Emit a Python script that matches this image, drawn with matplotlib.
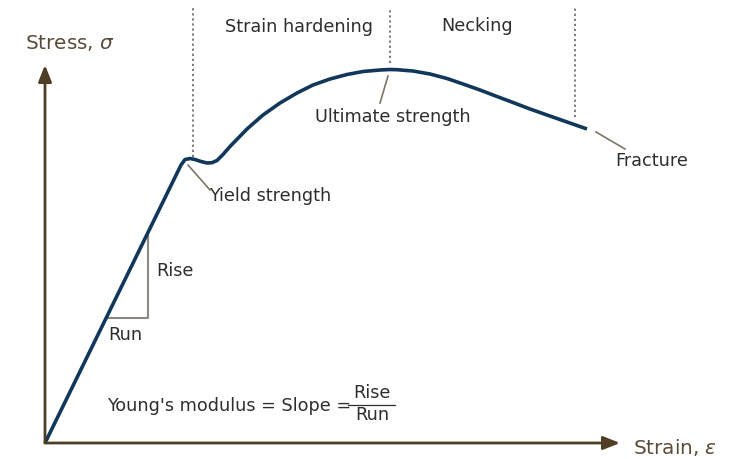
import matplotlib
matplotlib.use("Agg")
import matplotlib.pyplot as plt

# curve (arbitrary units, 1 unit = 100 px)
strain = [0.0, 1.36, 1.40, 1.45, 1.50, 1.56, 1.62, 1.67, 1.72, 1.78, 1.85, 2.02,
          2.18, 2.35, 2.52, 2.68, 2.85, 3.02, 3.18, 3.35, 3.45, 3.52, 3.68, 3.85,
          4.02, 4.18, 4.35, 4.52, 4.68, 4.85, 5.02, 5.22, 5.42]
stress = [0.0, 2.78, 2.835, 2.845, 2.835, 2.815, 2.80, 2.803, 2.825, 2.885, 2.965, 3.14,
          3.28, 3.40, 3.50, 3.58, 3.64, 3.685, 3.715, 3.73, 3.735, 3.733, 3.72, 3.69,
          3.645, 3.59, 3.53, 3.465, 3.405, 3.34, 3.28, 3.21, 3.14]

# region boundaries (strain) and where they stop at the bottom
bounds = [1.48, 3.45, 5.30]
bound_low = [2.86, 3.80, 3.26]
top = 4.35

# rise / run triangle (strain range)
run_x = [0.61, 1.03]

curve_c = "#11385a"
axis_c = "#4f3d26"
label_c = "#5a4a38"
text_c = "#2e2e2e"
lead_c = "#7d7468"

plt.rcParams["font.family"] = ["DejaVu Sans"]
plt.rcParams["mathtext.fontset"] = "dejavusans"
fig = plt.figure(figsize=(7.31, 4.59), dpi=100)
ax = fig.add_axes([0, 0, 1, 1])
ax.set_xlim(-0.45, 6.86)
ax.set_ylim(-0.16, 4.43)
ax.axis("off")

# axes arrows
arr = dict(arrowstyle="-|>,head_length=1.0,head_width=0.4", color=axis_c, lw=2, shrinkA=0, shrinkB=0)
ax.annotate("", xy=(5.75, 0), xytext=(0, 0), arrowprops=arr)
ax.annotate("", xy=(0, 3.78), xytext=(0, 0), arrowprops=arr)

# dotted boundaries
for b, lo in zip(bounds, bound_low):
    ax.plot([b, b], [lo, top], ls=(0, (1.2, 1.6)), color="#707070", lw=1.3)

# rise/run
slope = stress[1] / strain[1]
ax.plot([run_x[0], run_x[1], run_x[1]], [run_x[0] * slope, run_x[0] * slope, run_x[1] * slope],
        color="#8c8782", lw=1.5)

ax.plot(strain, stress, color=curve_c, lw=2.6, solid_joinstyle="round", solid_capstyle="butt")

# leader lines
ax.plot([1.43, 1.65], [2.78, 2.53], color=lead_c, lw=1.2)
ax.plot([3.43, 3.35], [3.67, 3.40], color=lead_c, lw=1.2)
ax.plot([5.51, 5.80], [3.11, 2.94], color=lead_c, lw=1.2)

fs = 12.7
lfs = 14.4
ax.text(-0.20, 4.00, r"Stress, $\sigma$", color=label_c, fontsize=lfs, va="center")
ax.text(5.88, -0.04, r"Strain, $\varepsilon$", color=label_c, fontsize=lfs, va="center")
ax.text(2.54, 4.16, "Strain hardening", color=text_c, fontsize=fs, ha="center", va="center")
ax.text(4.32, 4.17, "Necking", color=text_c, fontsize=fs, ha="center", va="center")
ax.text(3.48, 3.26, "Ultimate strength", color=text_c, fontsize=fs, ha="center", va="center")
ax.text(1.64, 2.47, "Yield strength", color=text_c, fontsize=fs, va="center")
ax.text(1.11, 1.72, "Rise", color=text_c, fontsize=fs, va="center")
ax.text(0.63, 1.08, "Run", color=text_c, fontsize=fs, va="center")
ax.text(5.70, 2.82, "Fracture", color=text_c, fontsize=fs, va="center")
ax.text(0.62, 0.37, "Young's modulus = Slope =", color=text_c, fontsize=fs, va="center")
ax.text(3.27, 0.50, "Rise", color=text_c, fontsize=fs, ha="center", va="center")
ax.text(3.27, 0.28, "Run", color=text_c, fontsize=fs, ha="center", va="center")
ax.plot([3.03, 3.50], [0.385, 0.385], color=text_c, lw=0.9)

fig.savefig("out.png", dpi=100)
